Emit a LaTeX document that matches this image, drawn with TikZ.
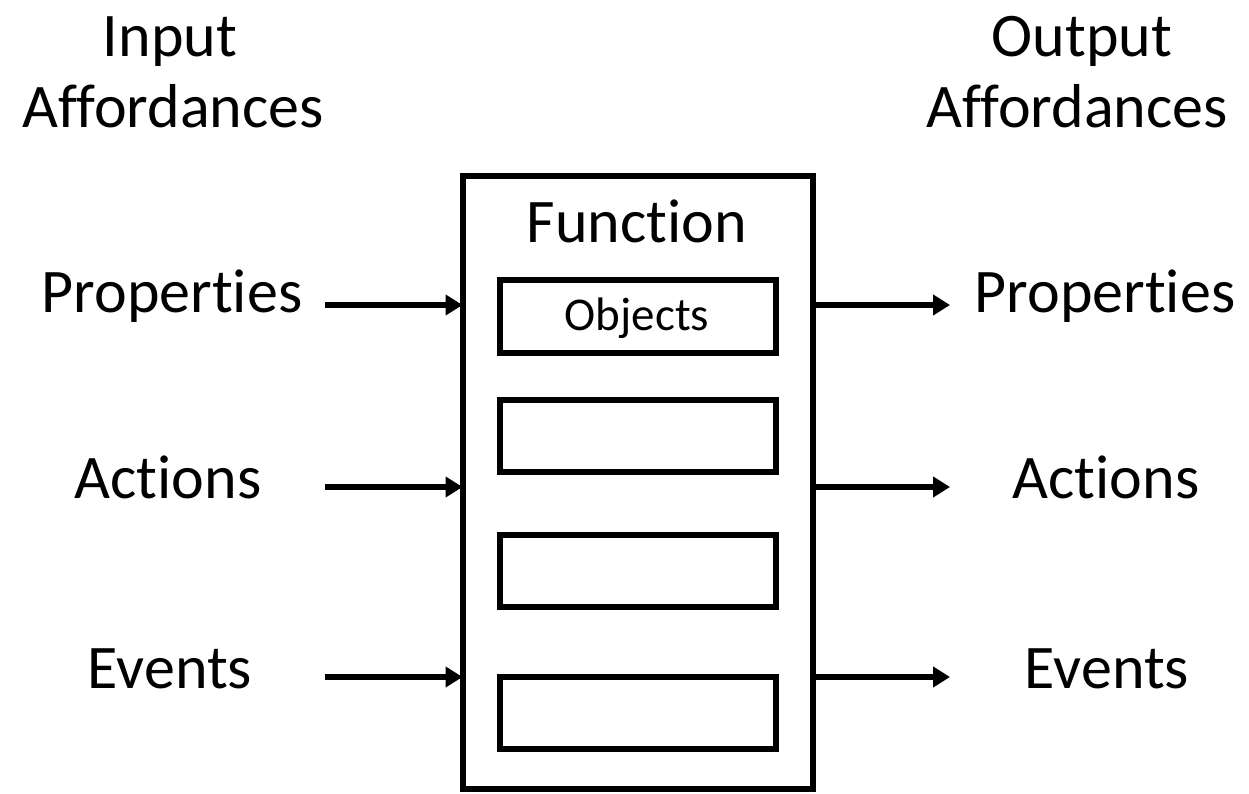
\documentclass[tikz,border=0pt]{standalone}
\usepackage{fontspec}
\setmainfont{Carlito}[RawFeature={-liga,-clig,-dlig,-calt,-rlig}]
\usetikzlibrary{arrows.meta}
\begin{document}
\begin{tikzpicture}[x=1pt,y=-1pt,
  big/.style={font=\fontsize{62}{70}\selectfont, inner sep=0pt, anchor=base},
  box/.style={draw, line width=6pt, rectangle, inner sep=0pt, outer sep=0pt},
  arr/.style={line width=5.5pt, -{Triangle[length=17pt,width=20pt]}}
]
\useasboundingbox (0,0) rectangle (1249,794);
% titles
\node[big] (in1) at (170,57) {Input};
\node[big] (in2) at (173,128) {Affordances};
\node[big] (out1) at (1082,57) {Output};
\node[big] (out2) at (1077,128) {Affordances};
% main box
\node[box, minimum width=350.5pt, minimum height=612.5pt] (func) at (637.75,482.75) {};
\node[big] (ftitle) at (637,243) {Function};
% inner boxes
\node[box, minimum width=276pt, minimum height=73pt] (b1) at (637.5,316.75) {};
\node[big, font=\fontsize{47}{54}\selectfont] (obj) at (637,330) {Objects};
\node[box, minimum width=276pt, minimum height=72pt] (b2) at (637.5,436) {};
\node[box, minimum width=276pt, minimum height=72pt] (b3) at (637.5,571) {};
\node[box, minimum width=276pt, minimum height=72pt] (b4) at (637.5,713) {};
% left labels
\node[big] (lp) at (172,312) {Properties};
\node[big] (la) at (168,498) {Actions};
\node[big] (le) at (170,688) {Events};
% right labels
\node[big] (rp) at (1105,312) {Properties};
\node[big] (ra) at (1106,498) {Actions};
\node[big] (re) at (1107,688) {Events};
% arrow ends
\coordinate (lps) at (325,305);
\coordinate (las) at (325,487);
\coordinate (les) at (325,677);
\coordinate (rpe) at (950,305);
\coordinate (rae) at (950,487);
\coordinate (ree) at (950,677);
\draw[arr] (lps) -- (lps -| func.west);
\draw[arr] (las) -- (las -| func.west);
\draw[arr] (les) -- (les -| func.west);
\draw[arr] (rpe -| func.east) -- (rpe);
\draw[arr] (rae -| func.east) -- (rae);
\draw[arr] (ree -| func.east) -- (ree);
\end{tikzpicture}
\end{document}
